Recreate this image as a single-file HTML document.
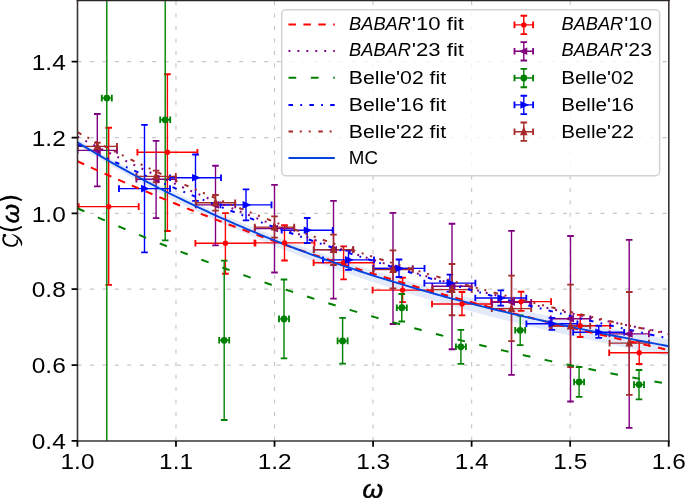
<!DOCTYPE html><html><head><meta charset="utf-8"><style>html,body{margin:0;padding:0;background:#fff;overflow:hidden}svg{display:block;will-change:transform}</style></head><body><svg width="685" height="498" viewBox="0 0 685 498">
<rect width="685" height="498" fill="#fff"/>
<defs><clipPath id="ax"><rect x="77.42" y="-2" width="591.3000000000001" height="442.9"/></clipPath></defs>
<g><path d="M175.97,440.9 V0" stroke="#c8c8c8" stroke-width="1.2" stroke-dasharray="4.1 8.35"/><path d="M274.52,440.9 V0" stroke="#c8c8c8" stroke-width="1.2" stroke-dasharray="4.1 8.35"/><path d="M373.07,440.9 V0" stroke="#c8c8c8" stroke-width="1.2" stroke-dasharray="4.1 8.35"/><path d="M471.62,440.9 V0" stroke="#c8c8c8" stroke-width="1.2" stroke-dasharray="4.1 8.35"/><path d="M570.17,440.9 V0" stroke="#c8c8c8" stroke-width="1.2" stroke-dasharray="4.1 8.35"/><path d="M77.42,365.06 H668.72" stroke="#c8c8c8" stroke-width="1.2" stroke-dasharray="4.1 8.35"/><path d="M77.42,289.22 H668.72" stroke="#c8c8c8" stroke-width="1.2" stroke-dasharray="4.1 8.35"/><path d="M77.42,213.38 H668.72" stroke="#c8c8c8" stroke-width="1.2" stroke-dasharray="4.1 8.35"/><path d="M77.42,137.54 H668.72" stroke="#c8c8c8" stroke-width="1.2" stroke-dasharray="4.1 8.35"/><path d="M77.42,61.70 H668.72" stroke="#c8c8c8" stroke-width="1.2" stroke-dasharray="4.1 8.35"/></g>
<path d="M77.42,139.37 L82.39,142.34 L87.36,145.29 L92.33,148.20 L97.30,151.09 L102.26,153.94 L107.23,156.77 L112.20,159.56 L117.17,162.33 L122.14,165.07 L127.11,167.77 L132.08,170.45 L137.05,173.10 L142.02,175.73 L146.98,178.32 L151.95,180.89 L156.92,183.43 L161.89,185.94 L166.86,188.43 L171.83,190.89 L176.80,193.32 L181.77,195.72 L186.74,198.10 L191.70,200.45 L196.67,202.78 L201.64,205.08 L206.61,207.36 L211.58,209.61 L216.55,211.84 L221.52,214.04 L226.49,216.22 L231.46,218.37 L236.43,220.50 L241.39,222.61 L246.36,224.69 L251.33,226.75 L256.30,228.78 L261.27,230.80 L266.24,232.79 L271.21,234.75 L276.18,236.70 L281.15,238.62 L286.11,240.52 L291.08,242.41 L296.05,244.26 L301.02,246.10 L305.99,247.92 L310.96,249.72 L315.93,251.49 L320.90,253.25 L325.87,254.98 L330.83,256.70 L335.80,258.40 L340.77,260.07 L345.74,261.73 L350.71,263.37 L355.68,264.99 L360.65,266.59 L365.62,268.18 L370.59,269.74 L375.55,271.29 L380.52,272.82 L385.49,274.34 L390.46,275.83 L395.43,277.31 L400.40,278.77 L405.37,280.22 L410.34,281.65 L415.31,283.06 L420.27,284.46 L425.24,285.85 L430.21,287.21 L435.18,288.57 L440.15,289.90 L445.12,291.23 L450.09,292.54 L455.06,293.83 L460.03,295.11 L464.99,296.38 L469.96,297.63 L474.93,298.87 L479.90,300.10 L484.87,301.31 L489.84,302.51 L494.81,303.70 L499.78,304.88 L504.75,306.04 L509.71,307.20 L514.68,308.34 L519.65,309.47 L524.62,310.59 L529.59,311.70 L534.56,312.79 L539.53,313.88 L544.50,314.96 L549.47,316.03 L554.44,317.08 L559.40,318.13 L564.37,319.17 L569.34,320.20 L574.31,321.22 L579.28,322.23 L584.25,323.23 L589.22,324.23 L594.19,325.22 L599.16,326.20 L604.12,327.17 L609.09,328.13 L614.06,329.09 L619.03,330.04 L624.00,330.99 L628.97,331.92 L633.94,332.86 L638.91,333.78 L643.88,334.70 L648.84,335.62 L653.81,336.52 L658.78,337.43 L663.75,338.33 L668.72,339.22 L668.72,356.22 L663.75,355.24 L658.78,354.25 L653.81,353.25 L648.84,352.25 L643.88,351.25 L638.91,350.24 L633.94,349.22 L628.97,348.20 L624.00,347.17 L619.03,346.13 L614.06,345.09 L609.09,344.04 L604.12,342.99 L599.16,341.93 L594.19,340.86 L589.22,339.78 L584.25,338.69 L579.28,337.60 L574.31,336.49 L569.34,335.38 L564.37,334.26 L559.40,333.13 L554.44,332.00 L549.47,330.85 L544.50,329.69 L539.53,328.52 L534.56,327.34 L529.59,326.16 L524.62,324.96 L519.65,323.75 L514.68,322.53 L509.71,321.29 L504.75,320.05 L499.78,318.79 L494.81,317.53 L489.84,316.25 L484.87,314.95 L479.90,313.65 L474.93,312.33 L469.96,311.00 L464.99,309.66 L460.03,308.30 L455.06,306.93 L450.09,305.54 L445.12,304.14 L440.15,302.73 L435.18,301.30 L430.21,299.86 L425.24,298.40 L420.27,296.93 L415.31,295.44 L410.34,293.93 L405.37,292.41 L400.40,290.87 L395.43,289.32 L390.46,287.75 L385.49,286.16 L380.52,284.56 L375.55,282.94 L370.59,281.30 L365.62,279.64 L360.65,277.97 L355.68,276.27 L350.71,274.56 L345.74,272.83 L340.77,271.08 L335.80,269.31 L330.83,267.53 L325.87,265.72 L320.90,263.89 L315.93,262.05 L310.96,260.18 L305.99,258.29 L301.02,256.39 L296.05,254.46 L291.08,252.51 L286.11,250.54 L281.15,248.54 L276.18,246.53 L271.21,244.49 L266.24,242.43 L261.27,240.35 L256.30,238.25 L251.33,236.12 L246.36,233.97 L241.39,231.80 L236.43,229.61 L231.46,227.39 L226.49,225.14 L221.52,222.87 L216.55,220.58 L211.58,218.26 L206.61,215.92 L201.64,213.55 L196.67,211.16 L191.70,208.74 L186.74,206.30 L181.77,203.83 L176.80,201.33 L171.83,198.81 L166.86,196.26 L161.89,193.68 L156.92,191.08 L151.95,188.45 L146.98,185.79 L142.02,183.11 L137.05,180.39 L132.08,177.65 L127.11,174.88 L122.14,172.08 L117.17,169.25 L112.20,166.40 L107.23,163.51 L102.26,160.60 L97.30,157.65 L92.33,154.67 L87.36,151.67 L82.39,148.63 L77.42,145.57Z" fill="#e3eaf9" clip-path="url(#ax)"/>
<g clip-path="url(#ax)"><path d="M78.70,206.60 H138.70 M108.70,127.70 V284.80 M137.40,152.30 H197.40 M167.40,74.20 V231.00 M195.40,243.30 H255.40 M225.40,213.10 V273.70 M254.50,242.90 H314.50 M284.50,225.20 V260.50 M313.60,262.70 H373.60 M343.60,246.40 V279.30 M372.60,290.10 H432.60 M402.60,277.70 V302.10 M432.00,304.00 H492.00 M462.00,292.00 V315.30 M491.10,301.60 H551.10 M521.10,291.70 V310.80 M550.20,325.70 H610.20 M580.20,314.80 V337.00 M609.20,352.70 H669.20 M639.20,341.50 V364.00" stroke="#ff0000" stroke-width="1.4" fill="none"/><path d="M78.70,203.30 V209.90 M138.70,203.30 V209.90 M105.40,127.70 H112.00 M105.40,284.80 H112.00 M137.40,149.00 V155.60 M197.40,149.00 V155.60 M164.10,74.20 H170.70 M164.10,231.00 H170.70 M195.40,240.00 V246.60 M255.40,240.00 V246.60 M222.10,213.10 H228.70 M222.10,273.70 H228.70 M254.50,239.60 V246.20 M314.50,239.60 V246.20 M281.20,225.20 H287.80 M281.20,260.50 H287.80 M313.60,259.40 V266.00 M373.60,259.40 V266.00 M340.30,246.40 H346.90 M340.30,279.30 H346.90 M372.60,286.80 V293.40 M432.60,286.80 V293.40 M399.30,277.70 H405.90 M399.30,302.10 H405.90 M432.00,300.70 V307.30 M492.00,300.70 V307.30 M458.70,292.00 H465.30 M458.70,315.30 H465.30 M491.10,298.30 V304.90 M551.10,298.30 V304.90 M517.80,291.70 H524.40 M517.80,310.80 H524.40 M550.20,322.40 V329.00 M610.20,322.40 V329.00 M576.90,314.80 H583.50 M576.90,337.00 H583.50 M609.20,349.40 V356.00 M669.20,349.40 V356.00 M635.90,341.50 H642.50 M635.90,364.00 H642.50" stroke="#ff0000" stroke-width="1.85" fill="none"/><path d="M77.60,150.40 H117.00 M97.30,114.00 V186.30 M136.40,179.30 H175.80 M156.10,140.90 V218.10 M195.80,204.90 H235.20 M215.50,165.70 V245.30 M254.80,228.50 H294.20 M274.50,184.90 V272.50 M313.80,249.70 H353.20 M333.50,200.80 V298.60 M373.30,268.50 H412.70 M393.00,212.90 V324.00 M432.30,286.30 H471.70 M452.00,223.70 V349.20 M491.80,302.20 H531.20 M511.50,230.90 V374.80 M550.80,318.70 H590.20 M570.50,236.00 V401.50 M609.50,333.90 H648.90 M629.20,239.90 V427.80" stroke="#800080" stroke-width="1.4" fill="none"/><path d="M77.60,147.10 V153.70 M117.00,147.10 V153.70 M94.00,114.00 H100.60 M94.00,186.30 H100.60 M136.40,176.00 V182.60 M175.80,176.00 V182.60 M152.80,140.90 H159.40 M152.80,218.10 H159.40 M195.80,201.60 V208.20 M235.20,201.60 V208.20 M212.20,165.70 H218.80 M212.20,245.30 H218.80 M254.80,225.20 V231.80 M294.20,225.20 V231.80 M271.20,184.90 H277.80 M271.20,272.50 H277.80 M313.80,246.40 V253.00 M353.20,246.40 V253.00 M330.20,200.80 H336.80 M330.20,298.60 H336.80 M373.30,265.20 V271.80 M412.70,265.20 V271.80 M389.70,212.90 H396.30 M389.70,324.00 H396.30 M432.30,283.00 V289.60 M471.70,283.00 V289.60 M448.70,223.70 H455.30 M448.70,349.20 H455.30 M491.80,298.90 V305.50 M531.20,298.90 V305.50 M508.20,230.90 H514.80 M508.20,374.80 H514.80 M550.80,315.40 V322.00 M590.20,315.40 V322.00 M567.20,236.00 H573.80 M567.20,401.50 H573.80 M609.50,330.60 V337.20 M648.90,330.60 V337.20 M625.90,239.90 H632.50 M625.90,427.80 H632.50" stroke="#800080" stroke-width="1.85" fill="none"/><path d="M101.80,98.10 H111.80 M106.80,-400.00 V900.00 M160.20,119.80 H170.20 M165.20,-0.70 V240.30 M219.20,340.30 H229.20 M224.20,260.60 V420.00 M279.00,318.90 H289.00 M284.00,279.50 V358.40 M337.60,340.90 H347.60 M342.60,317.80 V363.60 M396.80,307.70 H406.80 M401.80,294.00 V321.50 M455.90,346.80 H465.90 M460.90,329.90 V363.90 M515.20,330.30 H525.20 M520.20,315.50 V345.10 M574.10,382.00 H584.10 M579.10,367.00 V396.80 M634.00,384.60 H644.00 M639.00,370.00 V399.40" stroke="#008000" stroke-width="1.4" fill="none"/><path d="M101.80,94.80 V101.40 M111.80,94.80 V101.40 M103.50,-400.00 H110.10 M103.50,900.00 H110.10 M160.20,116.50 V123.10 M170.20,116.50 V123.10 M161.90,-0.70 H168.50 M161.90,240.30 H168.50 M219.20,337.00 V343.60 M229.20,337.00 V343.60 M220.90,260.60 H227.50 M220.90,420.00 H227.50 M279.00,315.60 V322.20 M289.00,315.60 V322.20 M280.70,279.50 H287.30 M280.70,358.40 H287.30 M337.60,337.60 V344.20 M347.60,337.60 V344.20 M339.30,317.80 H345.90 M339.30,363.60 H345.90 M396.80,304.40 V311.00 M406.80,304.40 V311.00 M398.50,294.00 H405.10 M398.50,321.50 H405.10 M455.90,343.50 V350.10 M465.90,343.50 V350.10 M457.60,329.90 H464.20 M457.60,363.90 H464.20 M515.20,327.00 V333.60 M525.20,327.00 V333.60 M516.90,315.50 H523.50 M516.90,345.10 H523.50 M574.10,378.70 V385.30 M584.10,378.70 V385.30 M575.80,367.00 H582.40 M575.80,396.80 H582.40 M634.00,381.30 V387.90 M644.00,381.30 V387.90 M635.70,370.00 H642.30 M635.70,399.40 H642.30" stroke="#008000" stroke-width="1.85" fill="none"/><path d="M119.00,188.60 H170.00 M144.50,124.80 V252.30 M170.00,177.70 H221.00 M195.50,154.50 V200.80 M220.50,204.90 H271.50 M246.00,189.30 V220.40 M281.70,230.30 H332.70 M307.20,218.00 V243.00 M323.00,259.90 H374.00 M348.50,250.50 V269.80 M373.50,268.40 H424.50 M399.00,259.50 V277.00 M424.40,283.10 H475.40 M449.90,274.60 V291.60 M475.30,298.00 H526.30 M500.80,290.40 V305.60 M526.40,323.80 H577.40 M551.90,317.80 V329.80 M573.20,332.20 H624.20 M598.70,325.70 V337.80" stroke="#0000ff" stroke-width="1.4" fill="none"/><path d="M119.00,185.30 V191.90 M170.00,185.30 V191.90 M141.20,124.80 H147.80 M141.20,252.30 H147.80 M170.00,174.40 V181.00 M221.00,174.40 V181.00 M192.20,154.50 H198.80 M192.20,200.80 H198.80 M220.50,201.60 V208.20 M271.50,201.60 V208.20 M242.70,189.30 H249.30 M242.70,220.40 H249.30 M281.70,227.00 V233.60 M332.70,227.00 V233.60 M303.90,218.00 H310.50 M303.90,243.00 H310.50 M323.00,256.60 V263.20 M374.00,256.60 V263.20 M345.20,250.50 H351.80 M345.20,269.80 H351.80 M373.50,265.10 V271.70 M424.50,265.10 V271.70 M395.70,259.50 H402.30 M395.70,277.00 H402.30 M424.40,279.80 V286.40 M475.40,279.80 V286.40 M446.60,274.60 H453.20 M446.60,291.60 H453.20 M475.30,294.70 V301.30 M526.30,294.70 V301.30 M497.50,290.40 H504.10 M497.50,305.60 H504.10 M526.40,320.50 V327.10 M577.40,320.50 V327.10 M548.60,317.80 H555.20 M548.60,329.80 H555.20 M573.20,328.90 V335.50 M624.20,328.90 V335.50 M595.40,325.70 H602.00 M595.40,337.80 H602.00" stroke="#0000ff" stroke-width="1.85" fill="none"/><path d="M77.60,146.40 H117.00 M97.30,142.70 V150.10 M136.40,176.40 H175.80 M156.10,170.60 V182.20 M195.80,202.80 H235.20 M215.50,195.00 V210.60 M254.80,227.10 H294.20 M274.50,216.30 V237.60 M313.80,249.60 H353.20 M333.50,234.60 V265.00 M373.30,269.60 H412.70 M393.00,250.30 V288.30 M432.30,289.60 H471.70 M452.00,264.00 V315.20 M491.80,308.60 H531.20 M511.50,275.60 V341.10 M550.80,326.00 H590.20 M570.50,284.60 V367.00 M609.60,343.10 H649.00 M629.30,292.00 V394.80" stroke="#a52a2a" stroke-width="1.4" fill="none"/><path d="M77.60,143.10 V149.70 M117.00,143.10 V149.70 M94.00,142.70 H100.60 M94.00,150.10 H100.60 M136.40,173.10 V179.70 M175.80,173.10 V179.70 M152.80,170.60 H159.40 M152.80,182.20 H159.40 M195.80,199.50 V206.10 M235.20,199.50 V206.10 M212.20,195.00 H218.80 M212.20,210.60 H218.80 M254.80,223.80 V230.40 M294.20,223.80 V230.40 M271.20,216.30 H277.80 M271.20,237.60 H277.80 M313.80,246.30 V252.90 M353.20,246.30 V252.90 M330.20,234.60 H336.80 M330.20,265.00 H336.80 M373.30,266.30 V272.90 M412.70,266.30 V272.90 M389.70,250.30 H396.30 M389.70,288.30 H396.30 M432.30,286.30 V292.90 M471.70,286.30 V292.90 M448.70,264.00 H455.30 M448.70,315.20 H455.30 M491.80,305.30 V311.90 M531.20,305.30 V311.90 M508.20,275.60 H514.80 M508.20,341.10 H514.80 M550.80,322.70 V329.30 M590.20,322.70 V329.30 M567.20,284.60 H573.80 M567.20,367.00 H573.80 M609.60,339.80 V346.40 M649.00,339.80 V346.40 M626.00,292.00 H632.60 M626.00,394.80 H632.60" stroke="#a52a2a" stroke-width="1.85" fill="none"/></g>
<path d="M77.42,161.23 L82.39,163.52 L87.36,165.80 L92.33,168.06 L97.30,170.30 L102.26,172.54 L107.23,174.75 L112.20,176.95 L117.17,179.14 L122.14,181.31 L127.11,183.47 L132.08,185.61 L137.05,187.74 L142.02,189.85 L146.98,191.95 L151.95,194.04 L156.92,196.11 L161.89,198.17 L166.86,200.21 L171.83,202.24 L176.80,204.25 L181.77,206.25 L186.74,208.24 L191.70,210.21 L196.67,212.17 L201.64,214.12 L206.61,216.05 L211.58,217.98 L216.55,219.88 L221.52,221.78 L226.49,223.66 L231.46,225.53 L236.43,227.38 L241.39,229.22 L246.36,231.06 L251.33,232.87 L256.30,234.68 L261.27,236.47 L266.24,238.25 L271.21,240.02 L276.18,241.78 L281.15,243.52 L286.11,245.26 L291.08,246.98 L296.05,248.69 L301.02,250.38 L305.99,252.07 L310.96,253.74 L315.93,255.41 L320.90,257.06 L325.87,258.70 L330.83,260.33 L335.80,261.95 L340.77,263.56 L345.74,265.15 L350.71,266.74 L355.68,268.32 L360.65,269.88 L365.62,271.44 L370.59,272.98 L375.55,274.51 L380.52,276.04 L385.49,277.55 L390.46,279.05 L395.43,280.55 L400.40,282.03 L405.37,283.51 L410.34,284.97 L415.31,286.42 L420.27,287.87 L425.24,289.31 L430.21,290.73 L435.18,292.15 L440.15,293.56 L445.12,294.96 L450.09,296.35 L455.06,297.73 L460.03,299.10 L464.99,300.46 L469.96,301.82 L474.93,303.17 L479.90,304.50 L484.87,305.83 L489.84,307.16 L494.81,308.47 L499.78,309.77 L504.75,311.07 L509.71,312.36 L514.68,313.64 L519.65,314.92 L524.62,316.18 L529.59,317.44 L534.56,318.69 L539.53,319.94 L544.50,321.17 L549.47,322.40 L554.44,323.63 L559.40,324.84 L564.37,326.05 L569.34,327.25 L574.31,328.45 L579.28,329.63 L584.25,330.82 L589.22,331.99 L594.19,333.16 L599.16,334.32 L604.12,335.48 L609.09,336.63 L614.06,337.77 L619.03,338.91 L624.00,340.04 L628.97,341.17 L633.94,342.29 L638.91,343.40 L643.88,344.51 L648.84,345.62 L653.81,346.72 L658.78,347.81 L663.75,348.90 L668.72,349.98" stroke="#ff0000" stroke-width="2.0" fill="none" stroke-dasharray="7.45 7.45" clip-path="url(#ax)"/>
<path d="M77.42,136.67 L82.39,139.24 L87.36,141.80 L92.33,144.33 L97.30,146.85 L102.26,149.35 L107.23,151.83 L112.20,154.29 L117.17,156.73 L122.14,159.15 L127.11,161.56 L132.08,163.95 L137.05,166.32 L142.02,168.67 L146.98,171.01 L151.95,173.32 L156.92,175.62 L161.89,177.91 L166.86,180.17 L171.83,182.42 L176.80,184.65 L181.77,186.86 L186.74,189.05 L191.70,191.23 L196.67,193.39 L201.64,195.54 L206.61,197.67 L211.58,199.78 L216.55,201.87 L221.52,203.95 L226.49,206.01 L231.46,208.05 L236.43,210.08 L241.39,212.09 L246.36,214.09 L251.33,216.07 L256.30,218.03 L261.27,219.98 L266.24,221.91 L271.21,223.83 L276.18,225.73 L281.15,227.61 L286.11,229.48 L291.08,231.34 L296.05,233.18 L301.02,235.00 L305.99,236.81 L310.96,238.60 L315.93,240.38 L320.90,242.14 L325.87,243.89 L330.83,245.62 L335.80,247.34 L340.77,249.04 L345.74,250.73 L350.71,252.41 L355.68,254.07 L360.65,255.71 L365.62,257.35 L370.59,258.96 L375.55,260.57 L380.52,262.16 L385.49,263.73 L390.46,265.29 L395.43,266.84 L400.40,268.38 L405.37,269.90 L410.34,271.40 L415.31,272.90 L420.27,274.38 L425.24,275.85 L430.21,277.30 L435.18,278.74 L440.15,280.17 L445.12,281.58 L450.09,282.99 L455.06,284.38 L460.03,285.75 L464.99,287.12 L469.96,288.47 L474.93,289.81 L479.90,291.13 L484.87,292.45 L489.84,293.75 L494.81,295.04 L499.78,296.32 L504.75,297.58 L509.71,298.84 L514.68,300.08 L519.65,301.31 L524.62,302.53 L529.59,303.74 L534.56,304.93 L539.53,306.12 L544.50,307.29 L549.47,308.45 L554.44,309.60 L559.40,310.74 L564.37,311.87 L569.34,312.99 L574.31,314.09 L579.28,315.19 L584.25,316.27 L589.22,317.35 L594.19,318.41 L599.16,319.47 L604.12,320.51 L609.09,321.54 L614.06,322.57 L619.03,323.58 L624.00,324.58 L628.97,325.57 L633.94,326.56 L638.91,327.53 L643.88,328.49 L648.84,329.45 L653.81,330.39 L658.78,331.33 L663.75,332.25 L668.72,333.17" stroke="#800080" stroke-width="2.0" fill="none" stroke-dasharray="1.9 7.04" clip-path="url(#ax)"/>
<path d="M77.42,208.26 L82.39,210.49 L87.36,212.72 L92.33,214.93 L97.30,217.12 L102.26,219.30 L107.23,221.46 L112.20,223.61 L117.17,225.74 L122.14,227.85 L127.11,229.96 L132.08,232.04 L137.05,234.11 L142.02,236.17 L146.98,238.21 L151.95,240.24 L156.92,242.26 L161.89,244.25 L166.86,246.24 L171.83,248.21 L176.80,250.16 L181.77,252.11 L186.74,254.03 L191.70,255.95 L196.67,257.84 L201.64,259.73 L206.61,261.60 L211.58,263.46 L216.55,265.30 L221.52,267.13 L226.49,268.95 L231.46,270.75 L236.43,272.54 L241.39,274.31 L246.36,276.08 L251.33,277.82 L256.30,279.56 L261.27,281.28 L266.24,282.99 L271.21,284.69 L276.18,286.37 L281.15,288.04 L286.11,289.70 L291.08,291.34 L296.05,292.97 L301.02,294.59 L305.99,296.20 L310.96,297.79 L315.93,299.37 L320.90,300.94 L325.87,302.50 L330.83,304.04 L335.80,305.58 L340.77,307.10 L345.74,308.60 L350.71,310.10 L355.68,311.59 L360.65,313.06 L365.62,314.52 L370.59,315.97 L375.55,317.40 L380.52,318.83 L385.49,320.24 L390.46,321.65 L395.43,323.04 L400.40,324.42 L405.37,325.78 L410.34,327.14 L415.31,328.49 L420.27,329.82 L425.24,331.15 L430.21,332.46 L435.18,333.76 L440.15,335.05 L445.12,336.33 L450.09,337.60 L455.06,338.86 L460.03,340.11 L464.99,341.35 L469.96,342.58 L474.93,343.80 L479.90,345.00 L484.87,346.20 L489.84,347.39 L494.81,348.57 L499.78,349.73 L504.75,350.89 L509.71,352.04 L514.68,353.17 L519.65,354.30 L524.62,355.42 L529.59,356.53 L534.56,357.63 L539.53,358.72 L544.50,359.80 L549.47,360.87 L554.44,361.93 L559.40,362.98 L564.37,364.02 L569.34,365.06 L574.31,366.08 L579.28,367.10 L584.25,368.10 L589.22,369.10 L594.19,370.09 L599.16,371.07 L604.12,372.04 L609.09,373.01 L614.06,373.96 L619.03,374.91 L624.00,375.85 L628.97,376.78 L633.94,377.70 L638.91,378.61 L643.88,379.52 L648.84,380.42 L653.81,381.31 L658.78,382.19 L663.75,383.06 L668.72,383.93" stroke="#008000" stroke-width="2.0" fill="none" stroke-dasharray="7.7 14.67" clip-path="url(#ax)"/>
<path d="M77.42,144.42 L82.39,146.80 L87.36,149.16 L92.33,151.50 L97.30,153.83 L102.26,156.14 L107.23,158.44 L112.20,160.72 L117.17,162.98 L122.14,165.23 L127.11,167.47 L132.08,169.69 L137.05,171.90 L142.02,174.09 L146.98,176.26 L151.95,178.42 L156.92,180.57 L161.89,182.70 L166.86,184.82 L171.83,186.92 L176.80,189.01 L181.77,191.08 L186.74,193.14 L191.70,195.18 L196.67,197.22 L201.64,199.23 L206.61,201.24 L211.58,203.23 L216.55,205.20 L221.52,207.16 L226.49,209.11 L231.46,211.05 L236.43,212.97 L241.39,214.88 L246.36,216.77 L251.33,218.66 L256.30,220.52 L261.27,222.38 L266.24,224.22 L271.21,226.05 L276.18,227.87 L281.15,229.68 L286.11,231.47 L291.08,233.25 L296.05,235.02 L301.02,236.77 L305.99,238.52 L310.96,240.25 L315.93,241.97 L320.90,243.68 L325.87,245.37 L330.83,247.05 L335.80,248.73 L340.77,250.39 L345.74,252.04 L350.71,253.67 L355.68,255.30 L360.65,256.91 L365.62,258.52 L370.59,260.11 L375.55,261.69 L380.52,263.26 L385.49,264.82 L390.46,266.37 L395.43,267.91 L400.40,269.44 L405.37,270.95 L410.34,272.46 L415.31,273.96 L420.27,275.44 L425.24,276.92 L430.21,278.39 L435.18,279.84 L440.15,281.29 L445.12,282.72 L450.09,284.15 L455.06,285.57 L460.03,286.97 L464.99,288.37 L469.96,289.76 L474.93,291.14 L479.90,292.51 L484.87,293.87 L489.84,295.22 L494.81,296.56 L499.78,297.90 L504.75,299.22 L509.71,300.54 L514.68,301.84 L519.65,303.14 L524.62,304.43 L529.59,305.71 L534.56,306.99 L539.53,308.25 L544.50,309.51 L549.47,310.76 L554.44,312.00 L559.40,313.23 L564.37,314.46 L569.34,315.68 L574.31,316.89 L579.28,318.09 L584.25,319.28 L589.22,320.47 L594.19,321.65 L599.16,322.82 L604.12,323.99 L609.09,325.15 L614.06,326.30 L619.03,327.45 L624.00,328.58 L628.97,329.71 L633.94,330.84 L638.91,331.96 L643.88,333.07 L648.84,334.17 L653.81,335.27 L658.78,336.37 L663.75,337.45 L668.72,338.53" stroke="#0000ff" stroke-width="2.0" fill="none" stroke-dasharray="4.5 7.3 1.8 7.25" clip-path="url(#ax)"/>
<path d="M77.42,132.18 L82.39,134.82 L87.36,137.45 L92.33,140.05 L97.30,142.63 L102.26,145.18 L107.23,147.72 L112.20,150.24 L117.17,152.74 L122.14,155.21 L127.11,157.67 L132.08,160.10 L137.05,162.52 L142.02,164.91 L146.98,167.29 L151.95,169.65 L156.92,171.98 L161.89,174.30 L166.86,176.60 L171.83,178.88 L176.80,181.14 L181.77,183.38 L186.74,185.61 L191.70,187.81 L196.67,190.00 L201.64,192.17 L206.61,194.32 L211.58,196.45 L216.55,198.56 L221.52,200.66 L226.49,202.74 L231.46,204.80 L236.43,206.84 L241.39,208.87 L246.36,210.88 L251.33,212.88 L256.30,214.85 L261.27,216.81 L266.24,218.76 L271.21,220.68 L276.18,222.60 L281.15,224.49 L286.11,226.37 L291.08,228.23 L296.05,230.08 L301.02,231.91 L305.99,233.73 L310.96,235.53 L315.93,237.32 L320.90,239.09 L325.87,240.85 L330.83,242.59 L335.80,244.32 L340.77,246.03 L345.74,247.73 L350.71,249.42 L355.68,251.09 L360.65,252.75 L365.62,254.39 L370.59,256.02 L375.55,257.64 L380.52,259.24 L385.49,260.83 L390.46,262.41 L395.43,263.97 L400.40,265.52 L405.37,267.06 L410.34,268.59 L415.31,270.10 L420.27,271.60 L425.24,273.09 L430.21,274.57 L435.18,276.04 L440.15,277.49 L445.12,278.94 L450.09,280.37 L455.06,281.79 L460.03,283.20 L464.99,284.59 L469.96,285.98 L474.93,287.36 L479.90,288.72 L484.87,290.08 L489.84,291.42 L494.81,292.76 L499.78,294.09 L504.75,295.40 L509.71,296.71 L514.68,298.00 L519.65,299.29 L524.62,300.56 L529.59,301.83 L534.56,303.09 L539.53,304.34 L544.50,305.58 L549.47,306.81 L554.44,308.04 L559.40,309.25 L564.37,310.46 L569.34,311.66 L574.31,312.85 L579.28,314.03 L584.25,315.21 L589.22,316.38 L594.19,317.54 L599.16,318.69 L604.12,319.84 L609.09,320.98 L614.06,322.11 L619.03,323.23 L624.00,324.35 L628.97,325.46 L633.94,326.57 L638.91,327.67 L643.88,328.76 L648.84,329.85 L653.81,330.93 L658.78,332.01 L663.75,333.08 L668.72,334.15" stroke="#a52a2a" stroke-width="2.0" fill="none" stroke-dasharray="4.5 6.8 2 6.9 2 7.6" clip-path="url(#ax)"/>
<path d="M77.42,142.37 L82.39,145.38 L87.36,148.35 L92.33,151.30 L97.30,154.22 L102.26,157.11 L107.23,159.97 L112.20,162.80 L117.17,165.60 L122.14,168.37 L127.11,171.11 L132.08,173.82 L137.05,176.51 L142.02,179.16 L146.98,181.79 L151.95,184.39 L156.92,186.97 L161.89,189.51 L166.86,192.03 L171.83,194.52 L176.80,196.99 L181.77,199.43 L186.74,201.84 L191.70,204.23 L196.67,206.59 L201.64,208.92 L206.61,211.23 L211.58,213.52 L216.55,215.78 L221.52,218.02 L226.49,220.23 L231.46,222.41 L236.43,224.58 L241.39,226.72 L246.36,228.83 L251.33,230.92 L256.30,232.99 L261.27,235.04 L266.24,237.06 L271.21,239.06 L276.18,241.04 L281.15,243.00 L286.11,244.94 L291.08,246.85 L296.05,248.74 L301.02,250.61 L305.99,252.47 L310.96,254.30 L315.93,256.10 L320.90,257.89 L325.87,259.66 L330.83,261.41 L335.80,263.14 L340.77,264.85 L345.74,266.55 L350.71,268.22 L355.68,269.87 L360.65,271.51 L365.62,273.13 L370.59,274.73 L375.55,276.31 L380.52,277.87 L385.49,279.42 L390.46,280.95 L395.43,282.46 L400.40,283.96 L405.37,285.44 L410.34,286.90 L415.31,288.35 L420.27,289.78 L425.24,291.20 L430.21,292.60 L435.18,293.99 L440.15,295.36 L445.12,296.72 L450.09,298.06 L455.06,299.39 L460.03,300.70 L464.99,302.00 L469.96,303.29 L474.93,304.56 L479.90,305.82 L484.87,307.07 L489.84,308.30 L494.81,309.53 L499.78,310.74 L504.75,311.93 L509.71,313.12 L514.68,314.30 L519.65,315.46 L524.62,316.61 L529.59,317.76 L534.56,318.89 L539.53,320.01 L544.50,321.12 L549.47,322.22 L554.44,323.31 L559.40,324.39 L564.37,325.46 L569.34,326.53 L574.31,327.58 L579.28,328.63 L584.25,329.66 L589.22,330.69 L594.19,331.71 L599.16,332.73 L604.12,333.73 L609.09,334.73 L614.06,335.72 L619.03,336.71 L624.00,337.68 L628.97,338.66 L633.94,339.62 L638.91,340.58 L643.88,341.53 L648.84,342.48 L653.81,343.42 L658.78,344.36 L663.75,345.29 L668.72,346.22" stroke="#0343df" stroke-width="1.9" fill="none" clip-path="url(#ax)"/>
<g clip-path="url(#ax)"><circle cx="108.70" cy="206.60" r="2.70" fill="#ff0000"/><circle cx="167.40" cy="152.30" r="2.70" fill="#ff0000"/><circle cx="225.40" cy="243.30" r="2.70" fill="#ff0000"/><circle cx="284.50" cy="242.90" r="2.70" fill="#ff0000"/><circle cx="343.60" cy="262.70" r="2.70" fill="#ff0000"/><circle cx="402.60" cy="290.10" r="2.70" fill="#ff0000"/><circle cx="462.00" cy="304.00" r="2.70" fill="#ff0000"/><circle cx="521.10" cy="301.60" r="2.70" fill="#ff0000"/><circle cx="580.20" cy="325.70" r="2.70" fill="#ff0000"/><circle cx="639.20" cy="352.70" r="2.70" fill="#ff0000"/><path d="M93.66,150.40 L100.10,147.60 L100.10,153.20Z" fill="#800080" stroke="#800080" stroke-width="1.3" stroke-linejoin="miter"/><path d="M152.46,179.30 L158.90,176.50 L158.90,182.10Z" fill="#800080" stroke="#800080" stroke-width="1.3" stroke-linejoin="miter"/><path d="M211.86,204.90 L218.30,202.10 L218.30,207.70Z" fill="#800080" stroke="#800080" stroke-width="1.3" stroke-linejoin="miter"/><path d="M270.86,228.50 L277.30,225.70 L277.30,231.30Z" fill="#800080" stroke="#800080" stroke-width="1.3" stroke-linejoin="miter"/><path d="M329.86,249.70 L336.30,246.90 L336.30,252.50Z" fill="#800080" stroke="#800080" stroke-width="1.3" stroke-linejoin="miter"/><path d="M389.36,268.50 L395.80,265.70 L395.80,271.30Z" fill="#800080" stroke="#800080" stroke-width="1.3" stroke-linejoin="miter"/><path d="M448.36,286.30 L454.80,283.50 L454.80,289.10Z" fill="#800080" stroke="#800080" stroke-width="1.3" stroke-linejoin="miter"/><path d="M507.86,302.20 L514.30,299.40 L514.30,305.00Z" fill="#800080" stroke="#800080" stroke-width="1.3" stroke-linejoin="miter"/><path d="M566.86,318.70 L573.30,315.90 L573.30,321.50Z" fill="#800080" stroke="#800080" stroke-width="1.3" stroke-linejoin="miter"/><path d="M625.56,333.90 L632.00,331.10 L632.00,336.70Z" fill="#800080" stroke="#800080" stroke-width="1.3" stroke-linejoin="miter"/><circle cx="106.80" cy="98.10" r="3.40" fill="#008000"/><circle cx="165.20" cy="119.80" r="3.40" fill="#008000"/><circle cx="224.20" cy="340.30" r="3.40" fill="#008000"/><circle cx="284.00" cy="318.90" r="3.40" fill="#008000"/><circle cx="342.60" cy="340.90" r="3.40" fill="#008000"/><circle cx="401.80" cy="307.70" r="3.40" fill="#008000"/><circle cx="460.90" cy="346.80" r="3.40" fill="#008000"/><circle cx="520.20" cy="330.30" r="3.40" fill="#008000"/><circle cx="579.10" cy="382.00" r="3.40" fill="#008000"/><circle cx="639.00" cy="384.60" r="3.40" fill="#008000"/><path d="M148.14,188.60 L141.70,185.80 L141.70,191.40Z" fill="#0000ff" stroke="#0000ff" stroke-width="1.3" stroke-linejoin="miter"/><path d="M199.14,177.70 L192.70,174.90 L192.70,180.50Z" fill="#0000ff" stroke="#0000ff" stroke-width="1.3" stroke-linejoin="miter"/><path d="M249.64,204.90 L243.20,202.10 L243.20,207.70Z" fill="#0000ff" stroke="#0000ff" stroke-width="1.3" stroke-linejoin="miter"/><path d="M310.84,230.30 L304.40,227.50 L304.40,233.10Z" fill="#0000ff" stroke="#0000ff" stroke-width="1.3" stroke-linejoin="miter"/><path d="M352.14,259.90 L345.70,257.10 L345.70,262.70Z" fill="#0000ff" stroke="#0000ff" stroke-width="1.3" stroke-linejoin="miter"/><path d="M402.64,268.40 L396.20,265.60 L396.20,271.20Z" fill="#0000ff" stroke="#0000ff" stroke-width="1.3" stroke-linejoin="miter"/><path d="M453.54,283.10 L447.10,280.30 L447.10,285.90Z" fill="#0000ff" stroke="#0000ff" stroke-width="1.3" stroke-linejoin="miter"/><path d="M504.44,298.00 L498.00,295.20 L498.00,300.80Z" fill="#0000ff" stroke="#0000ff" stroke-width="1.3" stroke-linejoin="miter"/><path d="M555.54,323.80 L549.10,321.00 L549.10,326.60Z" fill="#0000ff" stroke="#0000ff" stroke-width="1.3" stroke-linejoin="miter"/><path d="M602.34,332.20 L595.90,329.40 L595.90,335.00Z" fill="#0000ff" stroke="#0000ff" stroke-width="1.3" stroke-linejoin="miter"/><path d="M97.30,142.76 L100.10,149.20 L94.50,149.20Z" fill="#a52a2a" stroke="#a52a2a" stroke-width="1.3" stroke-linejoin="miter"/><path d="M156.10,172.76 L158.90,179.20 L153.30,179.20Z" fill="#a52a2a" stroke="#a52a2a" stroke-width="1.3" stroke-linejoin="miter"/><path d="M215.50,199.16 L218.30,205.60 L212.70,205.60Z" fill="#a52a2a" stroke="#a52a2a" stroke-width="1.3" stroke-linejoin="miter"/><path d="M274.50,223.46 L277.30,229.90 L271.70,229.90Z" fill="#a52a2a" stroke="#a52a2a" stroke-width="1.3" stroke-linejoin="miter"/><path d="M333.50,245.96 L336.30,252.40 L330.70,252.40Z" fill="#a52a2a" stroke="#a52a2a" stroke-width="1.3" stroke-linejoin="miter"/><path d="M393.00,265.96 L395.80,272.40 L390.20,272.40Z" fill="#a52a2a" stroke="#a52a2a" stroke-width="1.3" stroke-linejoin="miter"/><path d="M452.00,285.96 L454.80,292.40 L449.20,292.40Z" fill="#a52a2a" stroke="#a52a2a" stroke-width="1.3" stroke-linejoin="miter"/><path d="M511.50,304.96 L514.30,311.40 L508.70,311.40Z" fill="#a52a2a" stroke="#a52a2a" stroke-width="1.3" stroke-linejoin="miter"/><path d="M570.50,322.36 L573.30,328.80 L567.70,328.80Z" fill="#a52a2a" stroke="#a52a2a" stroke-width="1.3" stroke-linejoin="miter"/><path d="M629.30,339.46 L632.10,345.90 L626.50,345.90Z" fill="#a52a2a" stroke="#a52a2a" stroke-width="1.3" stroke-linejoin="miter"/></g>
<path d="M77.5,0 V440.9 M668.8,0 V440.9" stroke="#3a3533" stroke-width="1.6" fill="none" stroke-linecap="square"/>
<path d="M76.62,441.0 H669.82" stroke="#3a3533" stroke-width="1.7" fill="none"/>
<path d="M76.62,0.45 H669.82" stroke="#2a2522" stroke-width="1.6" fill="none"/>
<path d="M77.42,440.9 V446.7 M175.97,440.9 V446.7 M274.52,440.9 V446.7 M373.07,440.9 V446.7 M471.62,440.9 V446.7 M570.17,440.9 V446.7 M668.72,440.9 V446.7 M77.42,440.90 H71.6 M77.42,365.06 H71.6 M77.42,289.22 H71.6 M77.42,213.38 H71.6 M77.42,137.54 H71.6 M77.42,61.70 H71.6" stroke="#000" stroke-width="1.75"/>
<text x="77.52" y="469.3" font-family="Liberation Sans, sans-serif" font-size="22.8" text-anchor="middle" textLength="33.9" lengthAdjust="spacingAndGlyphs">1.0</text><text x="176.07" y="469.3" font-family="Liberation Sans, sans-serif" font-size="22.8" text-anchor="middle" textLength="33.9" lengthAdjust="spacingAndGlyphs">1.1</text><text x="274.62" y="469.3" font-family="Liberation Sans, sans-serif" font-size="22.8" text-anchor="middle" textLength="33.9" lengthAdjust="spacingAndGlyphs">1.2</text><text x="373.17" y="469.3" font-family="Liberation Sans, sans-serif" font-size="22.8" text-anchor="middle" textLength="33.9" lengthAdjust="spacingAndGlyphs">1.3</text><text x="471.72" y="469.3" font-family="Liberation Sans, sans-serif" font-size="22.8" text-anchor="middle" textLength="33.9" lengthAdjust="spacingAndGlyphs">1.4</text><text x="570.27" y="469.3" font-family="Liberation Sans, sans-serif" font-size="22.8" text-anchor="middle" textLength="33.9" lengthAdjust="spacingAndGlyphs">1.5</text><text x="668.82" y="469.3" font-family="Liberation Sans, sans-serif" font-size="22.8" text-anchor="middle" textLength="33.9" lengthAdjust="spacingAndGlyphs">1.6</text><text x="65.75" y="449.10" font-family="Liberation Sans, sans-serif" font-size="22.8" text-anchor="end" textLength="34.0" lengthAdjust="spacingAndGlyphs">0.4</text><text x="65.75" y="373.26" font-family="Liberation Sans, sans-serif" font-size="22.8" text-anchor="end" textLength="34.0" lengthAdjust="spacingAndGlyphs">0.6</text><text x="65.75" y="297.42" font-family="Liberation Sans, sans-serif" font-size="22.8" text-anchor="end" textLength="34.0" lengthAdjust="spacingAndGlyphs">0.8</text><text x="65.75" y="221.58" font-family="Liberation Sans, sans-serif" font-size="22.8" text-anchor="end" textLength="34.0" lengthAdjust="spacingAndGlyphs">1.0</text><text x="65.75" y="145.74" font-family="Liberation Sans, sans-serif" font-size="22.8" text-anchor="end" textLength="34.0" lengthAdjust="spacingAndGlyphs">1.2</text><text x="65.75" y="69.90" font-family="Liberation Sans, sans-serif" font-size="22.8" text-anchor="end" textLength="34.0" lengthAdjust="spacingAndGlyphs">1.4</text>
<text x="372.8" y="497.8" font-family="Liberation Sans, sans-serif" font-size="25" font-style="italic" text-anchor="middle" textLength="20.6" lengthAdjust="spacingAndGlyphs" stroke="#000" stroke-width="0.5">ω</text>
<g transform="translate(19.0,247) rotate(-90)"><text x="23.8" y="0" font-family="Liberation Sans, sans-serif" font-size="24.5" font-style="italic" textLength="19.4" lengthAdjust="spacingAndGlyphs" stroke="#000" stroke-width="0.55">ω</text></g>
<path d="M-1,199.6 Q11,192.1 22.3,199.4 L21.5,201.0 Q11,195.6 -1,201.6 Z" fill="#000"/>
<path d="M-1,227.4 Q11,235.1 22.3,227.6 L21.5,226.0 Q11,232.4 -1,225.4 Z" fill="#000"/>
<circle cx="4.5" cy="235.4" r="1.7" fill="#000"/>
<path d="M3.0,236.3 C1.4,239.6 2.6,243.8 6.7,245.8 C10.2,247.5 15.2,247.3 17.3,244.3 C18.3,242.8 18.3,241.0 17.6,239.3 L16.3,239.9 C16.7,241.2 16.5,242.4 15.8,243.3 C14.0,245.5 10.3,245.4 7.6,244.1 C4.4,242.6 3.4,239.6 4.6,236.8 Z" fill="#000"/>
<path d="M10.9,234.0 C15.8,234.6 20.4,237.4 21.9,241.6 C22.6,243.5 22.2,245.3 21.1,246.8 C21.2,244.8 20.7,243.0 19.8,241.6 C18.0,238.6 14.8,235.7 10.9,234.0 Z" fill="#000"/>
<g><rect x="281.7" y="9.8" width="377.9" height="165.9" rx="4" fill="#fff" fill-opacity="0.8" stroke="#d2d2d2" stroke-width="1.45"/><path d="M288.5,24.5 H334.8" stroke="#ff0000" stroke-width="2" stroke-dasharray="7.45 7.45"/><path d="M288.5,51.1 H334.8" stroke="#800080" stroke-width="2" stroke-dasharray="1.9 7.04"/><path d="M288.5,77.8 H334.8" stroke="#008000" stroke-width="2" stroke-dasharray="7.7 14.67"/><path d="M288.5,104.9 H334.8" stroke="#0000ff" stroke-width="2" stroke-dasharray="4.5 7.3 1.8 7.25"/><path d="M288.5,131.5 H334.8" stroke="#a52a2a" stroke-width="2" stroke-dasharray="4.5 6.8 2 6.9 2 7.6"/><path d="M288.5,158.0 H334.8" stroke="#0343df" stroke-width="2"/><text x="349.10" y="29.6" font-family="Liberation Sans, sans-serif" font-size="18" font-style="italic" textLength="61.85" lengthAdjust="spacingAndGlyphs">BABAR</text><text x="411.75" y="29.6" font-family="Liberation Sans, sans-serif" font-size="18.8"  textLength="52.20" lengthAdjust="spacingAndGlyphs">'10 fit</text><text x="349.10" y="56.3" font-family="Liberation Sans, sans-serif" font-size="18" font-style="italic" textLength="61.85" lengthAdjust="spacingAndGlyphs">BABAR</text><text x="411.75" y="56.3" font-family="Liberation Sans, sans-serif" font-size="18.8"  textLength="52.20" lengthAdjust="spacingAndGlyphs">'23 fit</text><text x="348.75" y="84.3" font-family="Liberation Sans, sans-serif" font-size="18"  textLength="97.42" lengthAdjust="spacingAndGlyphs">Belle'02 fit</text><text x="348.75" y="111.2" font-family="Liberation Sans, sans-serif" font-size="18"  textLength="97.42" lengthAdjust="spacingAndGlyphs">Belle'16 fit</text><text x="348.75" y="137.9" font-family="Liberation Sans, sans-serif" font-size="18"  textLength="97.42" lengthAdjust="spacingAndGlyphs">Belle'22 fit</text><text x="348.80" y="164.1" font-family="Liberation Sans, sans-serif" font-size="18"  textLength="29.14" lengthAdjust="spacingAndGlyphs">MC</text><path d="M514.50,24.90 H533.10 M523.80,15.70 V34.10" stroke="#ff0000" stroke-width="1.4" fill="none"/><path d="M514.50,21.60 V28.20 M533.10,21.60 V28.20 M520.50,15.70 H527.10 M520.50,34.10 H527.10" stroke="#ff0000" stroke-width="1.85" fill="none"/><circle cx="523.80" cy="24.90" r="2.70" fill="#ff0000"/><path d="M514.50,51.30 H533.10 M523.80,42.10 V60.50" stroke="#800080" stroke-width="1.4" fill="none"/><path d="M514.50,48.00 V54.60 M533.10,48.00 V54.60 M520.50,42.10 H527.10 M520.50,60.50 H527.10" stroke="#800080" stroke-width="1.85" fill="none"/><path d="M520.16,51.30 L526.60,48.50 L526.60,54.10Z" fill="#800080" stroke="#800080" stroke-width="1.3" stroke-linejoin="miter"/><path d="M514.50,78.00 H533.10 M523.80,68.80 V87.20" stroke="#008000" stroke-width="1.4" fill="none"/><path d="M514.50,74.70 V81.30 M533.10,74.70 V81.30 M520.50,68.80 H527.10 M520.50,87.20 H527.10" stroke="#008000" stroke-width="1.85" fill="none"/><circle cx="523.80" cy="78.00" r="3.40" fill="#008000"/><path d="M514.50,104.90 H533.10 M523.80,95.70 V114.10" stroke="#0000ff" stroke-width="1.4" fill="none"/><path d="M514.50,101.60 V108.20 M533.10,101.60 V108.20 M520.50,95.70 H527.10 M520.50,114.10 H527.10" stroke="#0000ff" stroke-width="1.85" fill="none"/><path d="M527.44,104.90 L521.00,102.10 L521.00,107.70Z" fill="#0000ff" stroke="#0000ff" stroke-width="1.3" stroke-linejoin="miter"/><path d="M514.50,131.70 H533.10 M523.80,122.50 V140.90" stroke="#a52a2a" stroke-width="1.4" fill="none"/><path d="M514.50,128.40 V135.00 M533.10,128.40 V135.00 M520.50,122.50 H527.10 M520.50,140.90 H527.10" stroke="#a52a2a" stroke-width="1.85" fill="none"/><path d="M523.80,128.06 L526.60,134.50 L521.00,134.50Z" fill="#a52a2a" stroke="#a52a2a" stroke-width="1.3" stroke-linejoin="miter"/><text x="561.50" y="29.6" font-family="Liberation Sans, sans-serif" font-size="18" font-style="italic" textLength="61.74" lengthAdjust="spacingAndGlyphs">BABAR</text><text x="624.30" y="29.6" font-family="Liberation Sans, sans-serif" font-size="18.8"  textLength="27.77" lengthAdjust="spacingAndGlyphs">'10</text><text x="561.50" y="56.3" font-family="Liberation Sans, sans-serif" font-size="18" font-style="italic" textLength="61.74" lengthAdjust="spacingAndGlyphs">BABAR</text><text x="624.30" y="56.3" font-family="Liberation Sans, sans-serif" font-size="18.8"  textLength="27.81" lengthAdjust="spacingAndGlyphs">'23</text><text x="561.15" y="84.3" font-family="Liberation Sans, sans-serif" font-size="18"  textLength="72.75" lengthAdjust="spacingAndGlyphs">Belle'02</text><text x="561.15" y="111.2" font-family="Liberation Sans, sans-serif" font-size="18"  textLength="72.75" lengthAdjust="spacingAndGlyphs">Belle'16</text><text x="561.15" y="137.9" font-family="Liberation Sans, sans-serif" font-size="18"  textLength="72.75" lengthAdjust="spacingAndGlyphs">Belle'22</text></g>
</svg></body></html>
